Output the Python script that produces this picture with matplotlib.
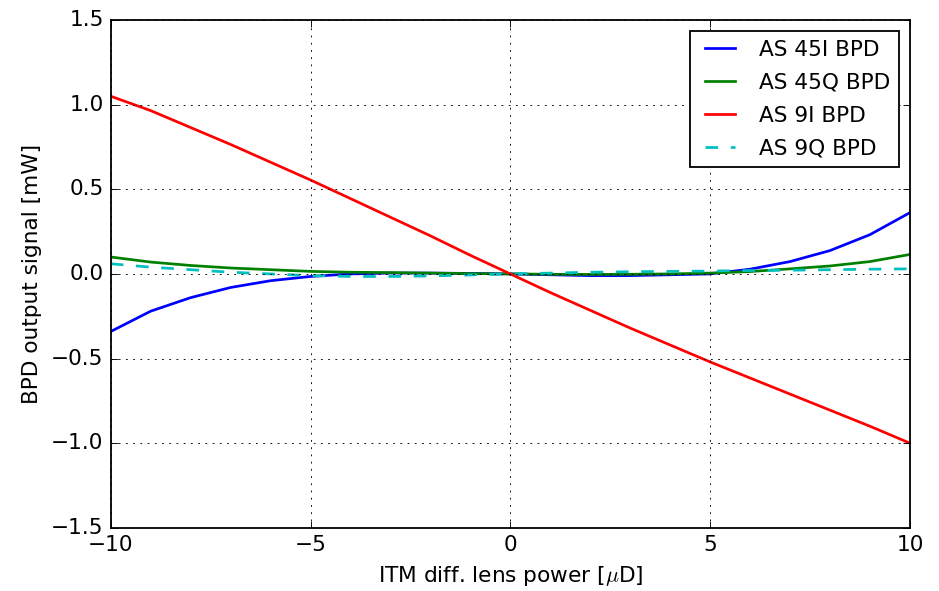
import numpy as np
import matplotlib
matplotlib.use("Agg")
import matplotlib.pyplot as plt

plt.style.use('classic')

# ITM differential lens power [uD]
lens_power = np.arange(-10, 11)

as45i = [-0.34, -0.22, -0.14, -0.08, -0.04, -0.015, 0.0, 0.005, 0.005, 0.003, 0.0,
         -0.005, -0.01, -0.01, -0.005, 0.0, 0.028, 0.073, 0.138, 0.232, 0.362]
as45q = [0.10, 0.07, 0.05, 0.035, 0.025, 0.015, 0.01, 0.008, 0.005, 0.002, 0.0,
         -0.002, -0.003, -0.002, 0.0, 0.005, 0.014, 0.03, 0.047, 0.073, 0.115]
as9i = [1.05, 0.965, 0.865, 0.765, 0.66, 0.555, 0.445, 0.335, 0.225, 0.11, 0.0,
        -0.11, -0.215, -0.32, -0.42, -0.52, -0.615, -0.71, -0.805, -0.9, -1.0]
as9q = [0.06, 0.04, 0.025, 0.01, 0.0, -0.01, -0.015, -0.015, -0.012, -0.006, 0.0,
        0.005, 0.01, 0.013, 0.015, 0.017, 0.02, 0.022, 0.025, 0.028, 0.03]

dpi = 130
fig = plt.figure(figsize=(939 / dpi, 591 / dpi), dpi=dpi, facecolor='white')
ax = fig.add_axes([0.118, 0.107, 0.851, 0.859])

lw = 1.5
ax.plot(lens_power, as45i, 'b-', lw=lw, label='AS 45I BPD')
ax.plot(lens_power, as45q, 'g-', lw=lw, label='AS 45Q BPD')
ax.plot(lens_power, as9i, 'r-', lw=lw, label='AS 9I BPD')
ax.plot(lens_power, as9q, 'c--', lw=lw, dashes=(7, 7), label='AS 9Q BPD')

ax.set_xlim(-10, 10)
ax.set_ylim(-1.5, 1.5)
ax.set_xticks([-10, -5, 0, 5, 10])
ax.set_yticks(np.arange(-1.5, 1.51, 0.5))
ax.grid(True)
ax.set_xlabel(r'ITM diff. lens power [$\mu$D]')
ax.set_ylabel('BPD output signal [mW]')
ax.legend(loc='upper right', fontsize=12, labelspacing=0.6)

fig.savefig('out.png', dpi=dpi, facecolor='white')
